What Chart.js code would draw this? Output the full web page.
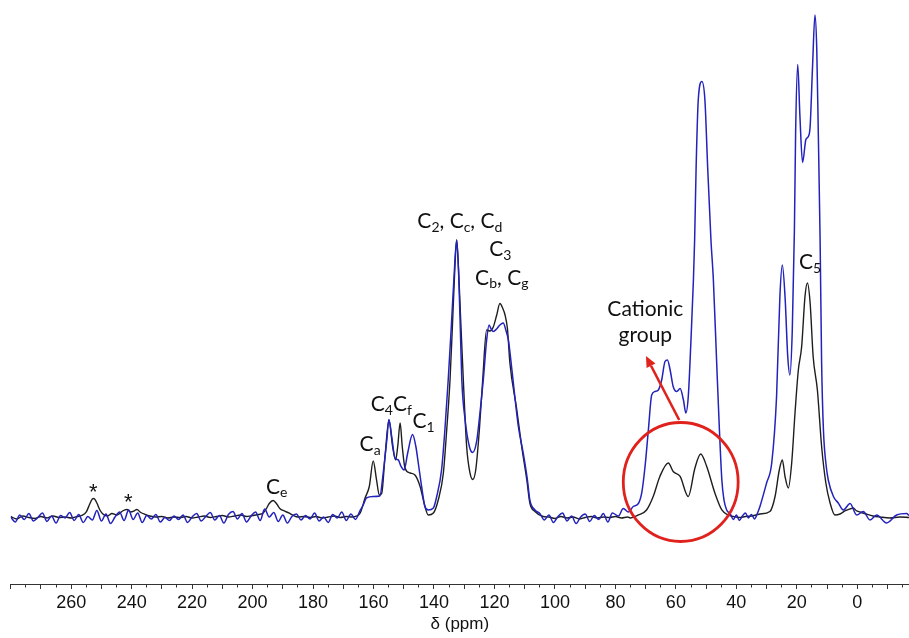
<!DOCTYPE html>
<html><head><meta charset="utf-8">
<script src="https://cdn.jsdelivr.net/npm/chart.js@4.4.1/dist/chart.umd.min.js"></script>
<style>html,body{margin:0;padding:0;background:#fff;}#wrap{width:909px;height:638px;}</style>
</head><body><div id="wrap"><canvas id="c" width="909" height="638"></canvas></div>
<script>
// ---- Data (chemical shift in ppm, intensity in arbitrary units) ----
const blackPpm = [280,278,276,274,272,270,268,266,264,262,260,258,256.5,255,254,253,252.5,251.5,250.5,249.5,248,246.5,245,244,243,241.6,240.3,239.2,238.3,237,235.5,234,232,230,228,226,224,222,220,218,216,214,212,210,208,206,204,202,200,198,196.5,195.5,194.5,193.2,192,191,189.5,188,186.5,185,183,181,179,177,175,173,171,169,167,165.5,
164.4,162.8,161.4,160.1,159.0,158.1,157.3,156.2,154.9,153.7,152.7,152.0,151.2,150.5,149.6,147.9,146.3,144.6,143.0,141.9,140.2,138.6,136.9,135.8,134.7,133.8,133.1,132.5,131.9,131.2,130.3,129.2,128.1,127.2,126.2,125.0,123.9,122.6,121.5,120.4,119.3,118.2,117.3,116.5,115.7,114.9,112.7,111.0,109.3,108.3,106.6,103.9,102,100,98,96,94,92,90,88,86,84,82,80,78,76,
75.1,72.4,69.7,67.5,65.3,62.5,60.9,58.6,55.9,53.7,51.8,49.8,47.1,44.8,42.7,41,39,37,35,33.5,32.2,28.9,27.2,25.8,24.8,23.9,22.8,21.7,20.6,19.5,18.4,17.3,16.5,15.6,14.6,13.2,11.8,10.4,9.0,7.4,5.7,4.1,2.4,1.3,0.4,-0.9,-2.9,-5.2,-7.5,-10.8,-14.1,-17.1];
const blackInt = [0.3,-0.2,0.4,0.1,-0.1,0.3,0.0,0.4,0.1,0.2,0.0,0.3,0.5,1.2,2.6,3.8,3.9,3.0,1.6,0.8,0.4,0.9,0.6,0.9,1.4,1.7,1.2,1.4,1.7,1.1,0.7,0.4,0.2,0.3,0.0,0.2,0.1,0.3,0.0,0.2,0.4,0.1,0.3,0.5,0.2,0.4,0.6,0.3,0.5,0.7,1.0,1.8,2.9,3.5,2.8,1.9,1.4,1.0,0.5,0.2,0.3,0.1,0.3,0.0,0.2,0.4,0.1,0.3,0.2,0.4,
1.0,4.0,6.3,11.4,7.6,4.6,4.9,12.3,19.6,14.3,11.6,14.3,19.0,14.3,10.0,9.0,8.6,6.3,2.3,0.6,1.0,3.6,9.0,17.6,27.6,40,50,55.6,50,40,27.6,14.3,9.0,7.7,9.6,17.6,27.6,37.6,37.4,38.2,40.5,42.9,42.0,40.6,37.8,31.0,22.0,14.3,7.6,3.0,1.3,0.3,0.2,-0.1,0.3,0.0,0.2,-0.2,0.1,0.3,0.0,0.2,0.1,0.3,0.0,0.2,
0.0,0.6,1.6,4.3,8.3,11.0,9.3,8.3,4.3,10.0,12.8,10.3,5.0,1.6,0.6,0.3,0.1,0.3,0.4,0.6,0.8,1.3,4.3,9.6,11.6,8.3,6.0,11.0,21.0,29.6,34.3,44.3,47.0,43.0,32.3,25.6,14.3,7.0,3.0,0.6,0.8,1.4,1.8,2.0,1.5,1.2,0.8,0.4,0.2,0.0,0.2,0.1];

const bluePpm = [280,278.5,277,275.5,274,272.5,271,269.5,268,266.5,265,263.5,262,260.5,259,257.5,256,254.5,253,251.5,250,248.5,247,245.5,244,242.5,241,239.5,238,236.5,235,233.5,232,230.5,229,227.5,226,224.5,223,221.5,220,218.5,217,215.5,214,212.5,211,209.5,208,206.5,205,203.5,202,200.5,199,197.5,196,194.5,193,191.5,190,188.5,187,185.5,184,182.5,181,179.5,178,176.5,175,173.5,172,170.5,169,167.5,166,164.5,
163.4,162.3,160.1,157.9,156.8,155.6,154.9,154.0,152.9,151.8,150.9,149.9,148.7,147.1,146.0,145.2,144.1,143.0,141.9,140.2,139.1,137.5,136.4,135.3,134.3,133.4,132.5,131.8,131.3,130.8,129.7,128.3,127.2,125.9,124.8,123.7,122.6,121.8,121.1,120.4,119.3,118.2,117.1,116.2,115.4,114.3,112.1,110.5,109.1,108.3,106.6,
105,103.5,102,100.5,99,97.5,96,94.5,93,91.5,90,88.5,87,85.5,84,82.5,81,79.0,77.4,75.7,74.1,72.4,71.3,70.2,69.1,68.0,66.9,65.8,64.7,63.6,62.8,61.9,60.9,59.7,58.6,57.5,56.7,55.9,55.1,54.2,53.8,53.3,52.6,51.4,50.4,49.5,48.4,47.6,46.5,45.6,44.8,44.1,43.2,42,41,40,39,38,37,36,35,34,33,
32.2,30.0,28.3,26.7,25.6,24.8,23.9,23.0,22.3,21.5,20.8,20.4,19.7,19.0,18.1,17.0,16.2,15.6,14.8,14.0,13.4,12.9,12.3,11.8,11.2,10.4,9.6,7.9,6.3,4.6,2.4,0.2,-2.0,-4.2,-6.4,-9.7,-13.0,-16.3,-17.1];
const blueInt = [0.2,-0.8,0.6,-0.3,0.9,-0.6,0.1,1.0,-0.7,0.4,-1.0,0.5,0.0,1.1,-0.5,0.7,-0.9,0.3,-0.4,1.5,-0.6,0.8,-1.1,0.2,1.2,-0.5,1.6,-0.3,1.0,-0.9,0.5,-0.2,0.7,-0.8,0.1,-0.5,0.4,-0.3,0.6,-0.9,0.2,0.9,-0.6,0.3,1.1,-0.4,0.5,-1.0,0.7,1.3,-0.2,0.9,-0.8,0.4,1.2,-0.5,1.8,0.2,1.1,-0.7,0.6,-1.0,0.3,0.8,-0.4,0.5,-0.2,1.0,-0.6,0.2,-0.9,0.7,0.0,1.2,-0.5,0.8,-0.3,1.4,
2.6,4.0,4.3,4.4,9.0,15.6,19.7,16.3,12.0,11.6,10.3,9.6,13.0,16.7,14.3,11.0,6.3,2.3,1.6,2.0,4.3,9.6,17.6,27.6,38,48,55.6,48,38,27.6,19.6,14.3,13.1,15.3,21.0,27.6,35.5,38.6,37.8,37.3,37.8,38.6,39.0,37.5,35.6,30.0,18.3,13.0,7.6,3.6,1.6,
0.9,-0.4,0.6,-0.9,0.3,1.0,-0.6,0.4,-1.1,0.2,0.8,-0.7,0.5,-0.3,0.9,-0.8,1.0,0.4,1.9,1.2,2.3,2.9,5.0,10.3,17.6,24.6,25.3,25.6,27.6,31.3,31.6,29.6,26.3,25.3,25.9,23.6,21.0,24.3,34.3,47.6,55.6,70.3,83.6,87.3,83.6,70.3,55.6,47.6,30.9,17.6,7.6,3.6,1.6,0.8,-0.3,0.6,-0.5,0.4,1.0,0.0,0.7,-0.2,1.0,
2.3,7.0,11.0,24.3,44.3,50.6,44.3,32.3,28.6,37.6,57.6,77.0,90.7,80.7,71.1,75.7,76.3,78.3,90.3,100.6,93.6,77.0,55.6,31.0,17.6,11.0,7.6,4.3,3.0,1.6,2.9,0.6,1.3,-0.4,0.6,-1.0,0.6,0.9,0.5];

const tickLabels = [260,240,220,200,180,160,140,120,100,80,60,40,20,0];
const axisTitle = 'δ (ppm)';

// peak annotations: text parts ([text, isSubscript]) anchored at (ppm, intensity) of the text baseline
const peakLabels = [
  {parts:[['*',0]], ppm:252.7, y:3.8, align:'center', star:true},
  {parts:[['*',0]], ppm:241.1, y:1.8, align:'center', star:true},
  {parts:[['C',0],['e',1]], ppm:195.6, y:4.8},
  {parts:[['C',0],['a',1]], ppm:164.6, y:13.3},
  {parts:[['C',0],['4',1],['C',0],['f',1]], ppm:160.9, y:21.3},
  {parts:[['C',0],['1',1]], ppm:147.1, y:17.9},
  {parts:[['C',0],['2',1],[', C',0],['c',1],[', C',0],['d',1]], ppm:145.5, y:57.9},
  {parts:[['C',0],['3',1]], ppm:121.7, y:52.3},
  {parts:[['C',0],['b',1],[', C',0],['g',1]], ppm:126.4, y:46.6},
  {parts:[['C',0],['5',1]], ppm:19.3, y:49.7},
  {parts:[['Cationic',0]], ppm:70.1, y:40.4, align:'center'},
  {parts:[['group',0]], ppm:70.1, y:35.1, align:'center'}
];
const circleMark = {ppm:58.4, y:7.2, rPpm:19, rY:11.9};
const arrowMark = {fromPpm:58.9, fromY:19.6, toPpm:69.9, toY:32.4};

const minorTicks = [];
for (let v = -15; v <= 280; v += 5) minorTicks.push(v);

const LABEL_FONT = 'Lato, "Open Sans", "Noto Sans", sans-serif';
const AXIS_FONT = '"Liberation Sans", Arial, sans-serif';
const RED = '#e0221d';

const annotPlugin = {
  id: 'annot',
  afterDatasetsDraw(chart) {
    const ctx = chart.ctx, xs = chart.scales.x, ys = chart.scales.y;
    ctx.save();
    // circle
    const cx = xs.getPixelForValue(circleMark.ppm), cy = ys.getPixelForValue(circleMark.y);
    const rx = Math.abs(xs.getPixelForValue(circleMark.ppm + circleMark.rPpm) - cx);
    const ry = Math.abs(ys.getPixelForValue(circleMark.y + circleMark.rY) - cy);
    ctx.strokeStyle = RED; ctx.lineWidth = 2.8;
    ctx.beginPath(); ctx.ellipse(cx, cy, rx, ry, 0, 0, Math.PI*2); ctx.stroke();
    // arrow
    const ax = xs.getPixelForValue(arrowMark.fromPpm), ay = ys.getPixelForValue(arrowMark.fromY);
    const bx = xs.getPixelForValue(arrowMark.toPpm), by = ys.getPixelForValue(arrowMark.toY);
    const ang = Math.atan2(by - ay, bx - ax), hl = 11, hw = 5;
    const baseX = bx - hl*Math.cos(ang), baseY = by - hl*Math.sin(ang);
    ctx.lineWidth = 2.6;
    ctx.beginPath(); ctx.moveTo(ax, ay); ctx.lineTo(baseX, baseY); ctx.stroke();
    ctx.fillStyle = RED;
    ctx.beginPath(); ctx.moveTo(bx, by);
    ctx.lineTo(baseX + hw*Math.sin(ang), baseY - hw*Math.cos(ang));
    ctx.lineTo(baseX - hw*Math.sin(ang), baseY + hw*Math.cos(ang));
    ctx.closePath(); ctx.fill();
    // text labels
    ctx.fillStyle = '#111'; ctx.textBaseline = 'alphabetic'; ctx.textAlign = 'left';
    const sub = 14, subShift = 3.5;
    peakLabels.forEach(l => {
      const mainFont = l.star ? '22px "Liberation Sans", Arial, sans-serif' : '21px ' + LABEL_FONT;
      const subFont = sub + 'px ' + LABEL_FONT;
      const px = xs.getPixelForValue(l.ppm), py = ys.getPixelForValue(l.y);
      const widths = l.parts.map(([t, s]) => { ctx.font = s ? subFont : mainFont; return ctx.measureText(t).width; });
      const total = widths.reduce((a, b) => a + b, 0);
      let x = l.align === 'center' ? px - total/2 : px;
      l.parts.forEach(([t, s], i) => {
        ctx.font = s ? subFont : mainFont;
        ctx.fillText(t, x, s ? py + subShift : py);
        x += widths[i];
      });
    });
    ctx.restore();
  }
};

new Chart(document.getElementById('c'), {
  type: 'scatter',
  data: {
    datasets: [
      {data: bluePpm.map((p, i) => ({x: p, y: blueInt[i]})), showLine: true, borderColor: '#2222bc', borderWidth: 1.5, pointRadius: 0, cubicInterpolationMode: 'monotone'},
      {data: blackPpm.map((p, i) => ({x: p, y: blackInt[i]})), showLine: true, borderColor: '#1e1e1e', borderWidth: 1.4, pointRadius: 0, cubicInterpolationMode: 'monotone'}
    ]
  },
  options: {
    responsive: false, animation: false, events: [],
    layout: {padding: {left: 10.7, right: 0, top: 10, bottom: 7.5}},
    plugins: {legend: {display: false}, tooltip: {enabled: false}},
    scales: {
      x: {
        type: 'linear', reverse: true, min: -17.1, max: 280,
        afterBuildTicks: s => { s.ticks = minorTicks.map(v => ({value: v})); },
        ticks: {autoSkip: false, maxRotation: 0, padding: 5.3, color: '#111',
          font: {family: AXIS_FONT, size: 18, lineHeight: 1},
          callback: v => tickLabels.includes(v) ? String(v) : ''},
        grid: {display: true, drawOnChartArea: false, drawTicks: true, tickLength: 4, tickColor: '#333', tickWidth: 1,
          tickBorderDash: c => (c.tick && c.tick.value % 10 !== 0) ? [2.5, 20] : []},
        border: {display: true, color: '#333', width: 1},
        title: {display: true, text: axisTitle, color: '#111', font: {family: AXIS_FONT, size: 17, lineHeight: 0.76}, padding: {top: 0, bottom: 0}}
      },
      y: {display: false, min: -13.4, max: 101.6}
    }
  },
  plugins: [annotPlugin]
});
</script></body></html>
